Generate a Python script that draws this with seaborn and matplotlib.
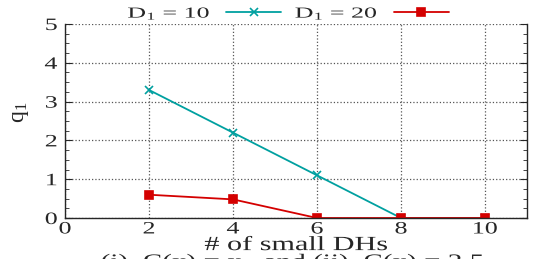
import matplotlib
matplotlib.use("Agg")
import matplotlib.pyplot as plt
import seaborn as sns
import pandas as pd
from matplotlib.ticker import MultipleLocator
from matplotlib.patheffects import AbstractPathEffect
from matplotlib.transforms import Affine2D

x_vals = [2, 4, 6, 8, 10]
q_d10 = [3.3, 2.2, 1.1, 0.0, 0.0]
q_d20 = [0.6, 0.48, 0.0, 0.0, 0.0]
series = ["D$_1$ = 10", "D$_1$ = 20"]
colors = ["#00a0a0", "#d40000"]
markers = ["x", "s"]
x_ticks = [0, 2, 4, 6, 8, 10]
y_ticks = [0, 1, 2, 3, 4, 5]


class HStretch(AbstractPathEffect):
    """Widen text horizontally (the reference uses a wide-set serif face)."""
    def __init__(self, sx, anchor="center"):
        super().__init__()
        self.sx = sx
        self.anchor = anchor

    def draw_path(self, renderer, gc, tpath, affine, rgbFace=None):
        ext = tpath.transformed(affine).get_extents()
        if self.anchor == "center":
            a = (ext.x0 + ext.x1) / 2
        elif self.anchor == "right":
            a = ext.x1
        else:
            a = ext.x0
        new = affine + Affine2D().translate(-a, 0).scale(self.sx, 1).translate(a, 0)
        renderer.draw_path(gc, tpath, new, rgbFace)


SX = 1.5
SX_LEG = 1.7

sns.set_style("ticks")
plt.rcParams["font.family"] = ["Liberation Serif", "DejaVu Serif"]
plt.rcParams["mathtext.fontset"] = "custom"
plt.rcParams["mathtext.rm"] = "Liberation Serif"
plt.rcParams["mathtext.it"] = "Liberation Serif"

fig = plt.figure(figsize=(5.36, 2.59), dpi=100)
ax = fig.add_axes([65/536, 1-218/259, 462/536, 194/259])

for vals, name, c, m in zip([q_d10, q_d20], series, colors, markers):
    df = pd.DataFrame({"x": x_vals, "q": vals})
    sns.lineplot(data=df, x="x", y="q", color=c, marker=m,
                 markersize=5.5, linewidth=1.3, markeredgewidth=1.2,
                 markeredgecolor=c, label=name, ax=ax)

ax.set_xlim(0, 11)
ax.set_ylim(0, 5)
ax.set_xticks(x_ticks)
ax.set_yticks(y_ticks)
ax.yaxis.set_minor_locator(MultipleLocator(0.25))
ax.tick_params(axis="x", which="major", labelsize=12.5, direction="in",
               length=0, pad=2.5)
ax.tick_params(axis="y", which="major", labelsize=12.5, direction="in",
               length=5, width=0.8, pad=5.5, right=True)
ax.tick_params(axis="y", which="minor", direction="in", length=3, width=0.6, right=True)
ax.grid(True, which="major", linestyle=":", color="#555555", linewidth=0.9)
ax.spines["top"].set_visible(False)
for s in ["left", "bottom", "right"]:
    ax.spines[s].set_linewidth(1.0)

for t in ax.get_xticklabels():
    t.set_path_effects([HStretch(SX, "center")])
for t in ax.get_yticklabels():
    t.set_path_effects([HStretch(SX, "right")])

xl = ax.set_xlabel("# of small DHs", fontsize=14.5, labelpad=-1)
xl.set_path_effects([HStretch(SX, "center")])
ax.set_ylabel("q$_1$", fontsize=17)
ax.yaxis.set_label_coords(-0.074, 0.546)

h, l = ax.get_legend_handles_labels()
leg = ax.legend(h, l, loc="lower center", bbox_to_anchor=(0.483, 0.98), ncol=2,
                frameon=False, fontsize=11, handlelength=3.6, columnspacing=0.9,
                markerfirst=False, handletextpad=3.2, borderaxespad=0)
for t in leg.get_texts():
    t.set_path_effects([HStretch(SX_LEG, "left")])

cap = fig.text(293/536, 1-254/259, "(i)  C(x) = x   and (ii)  C(x) = 2.5",
               ha="center", va="top", fontsize=14)
cap.set_path_effects([HStretch(SX, "center")])

fig.savefig("out.png", dpi=100)
